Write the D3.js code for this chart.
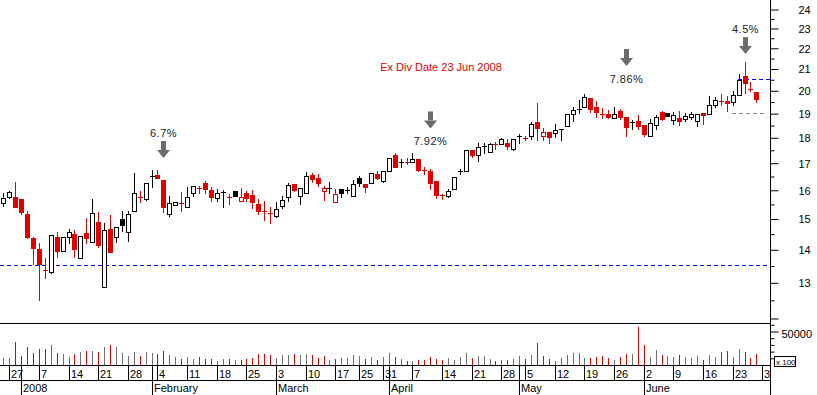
<!DOCTYPE html>
<html>
<head>
<meta charset="utf-8">
<script src="https://cdn.jsdelivr.net/npm/d3@7"></script>
<style>
  html, body { margin: 0; padding: 0; background: #fff; }
  svg { display: block; font-family: "Liberation Sans", Arial, sans-serif; }
</style>
</head>
<body>
<svg id="chart" width="817" height="395"></svg>
<script>
// trading days shown (Dec 21 2007 .. Jun 27 2008)
const dates = [
  "2007-12-21","2007-12-27","2007-12-28",
  "2008-01-02","2008-01-03","2008-01-04","2008-01-07","2008-01-08","2008-01-09","2008-01-10","2008-01-11",
  "2008-01-14","2008-01-15","2008-01-16","2008-01-17","2008-01-18","2008-01-21","2008-01-22","2008-01-23",
  "2008-01-24","2008-01-25","2008-01-28","2008-01-29","2008-01-30","2008-01-31",
  "2008-02-01","2008-02-04","2008-02-05","2008-02-06","2008-02-07","2008-02-08","2008-02-11","2008-02-12",
  "2008-02-13","2008-02-14","2008-02-15","2008-02-18","2008-02-19","2008-02-20","2008-02-21","2008-02-22",
  "2008-02-25","2008-02-26","2008-02-27","2008-02-28","2008-02-29",
  "2008-03-03","2008-03-04","2008-03-05","2008-03-06","2008-03-07","2008-03-10","2008-03-11","2008-03-12",
  "2008-03-13","2008-03-14","2008-03-17","2008-03-18","2008-03-19","2008-03-20","2008-03-25","2008-03-26",
  "2008-03-27","2008-03-28","2008-03-31",
  "2008-04-01","2008-04-02","2008-04-03","2008-04-04","2008-04-07","2008-04-08","2008-04-09","2008-04-10",
  "2008-04-11","2008-04-14","2008-04-15","2008-04-16","2008-04-17","2008-04-18","2008-04-21","2008-04-22",
  "2008-04-23","2008-04-24","2008-04-25","2008-04-28","2008-04-29","2008-04-30",
  "2008-05-02","2008-05-05","2008-05-06","2008-05-07","2008-05-08","2008-05-09","2008-05-12","2008-05-13",
  "2008-05-14","2008-05-15","2008-05-16","2008-05-19","2008-05-20","2008-05-21","2008-05-22","2008-05-23",
  "2008-05-26","2008-05-27","2008-05-28","2008-05-29","2008-05-30",
  "2008-06-02","2008-06-03","2008-06-04","2008-06-05","2008-06-06","2008-06-09","2008-06-10","2008-06-11",
  "2008-06-12","2008-06-13","2008-06-16","2008-06-17","2008-06-18","2008-06-19","2008-06-20","2008-06-23",
  "2008-06-24","2008-06-25","2008-06-26","2008-06-27"
];

const prevClose = 15.55; // close of the day before the first candle

const open = [
  15.52,15.74,15.73,15.67,15.15,14.36,14.00,13.36,13.30,14.39,
  13.96,14.38,14.48,13.73,14.53,14.23,14.88,12.86,14.66,14.40,
  14.98,14.56,15.26,15.75,15.66,16.50,16.53,16.35,15.15,15.45,
  15.52,15.40,15.87,16.05,16.25,15.99,15.70,15.91,15.74,15.94,
  15.59,15.90,15.80,15.51,15.26,15.18,15.09,15.42,15.73,16.20,
  15.76,15.87,16.55,16.42,15.97,16.07,15.55,16.01,15.94,15.78,
  16.42,16.20,16.24,16.57,16.33,16.68,17.29,17.03,17.04,17.03,
  17.13,16.73,16.67,16.30,15.83,15.79,16.03,16.66,16.67,17.49,
  17.30,17.63,17.42,17.71,17.73,17.78,17.55,18.05,17.97,18.06,
  18.61,18.06,18.20,18.19,18.32,18.48,18.96,19.16,19.25,19.64,
  19.28,18.97,18.96,18.78,19.10,18.82,18.60,18.65,18.50,18.04,
  18.52,19.06,19.02,18.70,18.79,18.75,18.82,18.65,18.99,18.96,
  19.35,19.51,19.53,19.50,19.78,20.67,20.05,19.91
];
const high = [
  15.88,15.94,16.27,15.67,15.24,14.40,14.20,13.72,14.47,14.56,
  14.40,14.65,14.62,14.42,15.03,15.67,15.22,14.84,15.12,14.72,
  15.26,15.26,16.63,15.94,16.23,16.72,16.72,16.35,15.76,15.57,
  15.91,16.11,16.12,16.13,16.32,16.11,16.01,15.99,15.85,15.94,
  16.07,15.97,15.99,15.66,15.60,15.40,15.57,15.76,16.25,16.20,
  16.05,16.65,16.60,16.56,16.15,16.29,16.04,16.01,16.10,16.35,
  16.49,16.20,16.60,16.68,16.68,17.17,17.38,17.13,17.17,17.36,
  17.13,16.85,16.76,16.30,15.84,16.01,16.45,16.78,17.51,17.49,
  17.76,17.76,17.78,17.80,17.98,17.92,17.92,18.14,18.05,18.61,
  19.45,18.37,18.20,18.54,18.33,18.96,19.28,19.56,19.84,19.64,
  19.52,19.23,19.13,19.28,19.17,18.82,18.70,18.92,18.50,18.75,
  18.92,19.10,19.02,19.06,19.10,19.02,19.06,18.97,18.99,19.74,
  19.71,19.83,19.74,19.98,20.76,21.32,20.39,19.91
];
const low = [
  15.44,15.70,15.40,15.16,14.37,13.55,12.50,13.12,13.28,13.77,
  13.95,14.20,13.75,13.73,14.19,14.23,14.07,12.86,13.90,14.22,
  14.59,14.26,15.26,15.56,15.64,16.11,16.44,15.23,15.10,15.45,
  15.25,15.40,15.76,15.90,15.90,15.60,15.61,15.40,15.51,15.79,
  15.59,15.59,15.37,15.15,14.95,14.86,15.06,15.35,15.60,15.95,
  15.50,15.87,16.29,16.13,15.63,15.87,15.55,15.73,15.87,15.78,
  16.14,15.92,16.24,16.39,16.29,16.68,16.83,16.85,16.94,17.03,
  16.67,16.57,16.04,15.70,15.67,15.73,16.03,16.57,16.67,17.23,
  17.06,17.36,17.42,17.55,17.73,17.55,17.51,17.76,17.90,17.92,
  17.87,17.90,17.76,18.02,17.90,18.48,18.65,19.02,19.25,19.06,
  18.85,18.80,18.78,18.78,18.75,18.04,18.34,18.34,18.04,18.04,
  18.34,18.72,18.88,18.54,18.50,18.65,18.75,18.47,18.54,18.96,
  19.28,19.35,19.10,19.35,19.78,19.89,19.97,19.47
];
const close = [
  15.72,15.91,15.40,15.23,14.40,14.05,13.56,13.34,14.44,13.96,
  14.39,14.55,14.01,14.42,14.37,15.18,14.14,14.61,13.90,14.72,
  14.79,15.15,15.87,15.74,16.23,16.51,16.44,15.38,15.53,15.57,
  15.51,15.73,16.12,16.04,16.01,15.73,15.90,15.92,15.73,15.79,
  15.73,15.72,15.55,15.27,15.25,15.17,15.32,15.65,16.16,15.98,
  16.05,16.49,16.40,16.24,16.05,16.08,15.85,15.87,15.99,16.20,
  16.24,16.09,16.60,16.44,16.68,17.17,16.85,17.04,17.03,17.13,
  16.73,16.72,16.25,15.83,15.82,15.94,16.45,16.67,17.51,17.30,
  17.62,17.64,17.72,17.71,17.92,17.65,17.92,18.06,17.96,18.54,
  18.38,18.22,18.01,18.30,18.33,18.96,19.13,19.17,19.71,19.17,
  19.06,18.96,18.82,18.96,18.85,18.42,18.61,18.45,18.14,18.60,
  18.82,18.75,18.88,18.92,18.65,18.88,18.96,18.97,18.92,19.35,
  19.57,19.50,19.42,19.78,20.48,20.31,20.04,19.60
];
// volume, in hundreds of shares
const volume = [
  10000,10900,34800,13900,26900,18400,23900,24300,29900,18400,
  16000,11900,16400,19000,20900,20900,19400,26900,29900,26900,
  18400,13000,19400,13400,19000,18400,16000,21400,14900,11900,
  9400,11500,9400,12400,9400,9000,6400,9000,9400,7900,
  7900,9000,10000,16400,16000,14900,10000,14500,14900,16400,
  14500,16400,14900,10900,13400,7500,9400,10000,10900,14500,
  13000,9400,12400,7900,12400,18400,12400,9400,6400,6400,
  7900,7000,12400,9000,7900,10000,7000,11900,18400,10900,
  13400,13400,8500,6000,7000,7900,8500,13400,9400,14900,
  33300,13400,9400,6400,10900,14900,18400,18400,10000,10900,
  12400,13900,10000,7000,12400,16000,16000,56300,29900,12400,
  22400,14900,13900,12400,14900,12400,10900,13900,7500,14900,
  12400,19000,21400,12400,23900,19900,10900,16400
];

// axis ticks
const priceTicks = [12,13,14,15,16,17,18,19,20,21,22,23,24];
const priceMinorTicks = [12.5,13.5,14.5,15.5,16.5,17.5,18.5,19.5,20.5,21.5,22.5,23.5];
const volTicks = [10000,20000,30000,40000,60000];
const volLabelTick = [50000];
const weekTickDates = ["2007-12-27","2008-01-07","2008-01-14","2008-01-21","2008-01-28","2008-02-04","2008-02-11",
  "2008-02-18","2008-02-25","2008-03-03","2008-03-10","2008-03-17","2008-03-25","2008-03-31","2008-04-07",
  "2008-04-14","2008-04-21","2008-04-28","2008-05-05","2008-05-12","2008-05-19","2008-05-26","2008-06-02",
  "2008-06-09","2008-06-16","2008-06-23","2008-06-30"];
const weekTickLabels = ["27","7","14","21","28","4","11","18","25","3","10","17","25","31","7",
  "14","21","28","5","12","19","26","2","9","16","23","30"];
const monthTickDates = ["2008-01-02","2008-02-01","2008-03-03","2008-04-01","2008-05-02","2008-06-02"];
const monthTickLabels = ["2008","February","March","April","May","June"];

// annotations
const noteLabels = ["6.7%","7.92%","7.86%","4.5%"];
const noteDates = ["2008-02-05","2008-04-10","2008-05-28","2008-06-25"];
const noteTips = [17.18, 18.36, 21.12, 21.69];
const noteTextAbove = [true, false, false, true];
const refLevels = [13.5, 20.5, 19.0];
const refFrom = ["2007-12-21","2008-06-24","2008-06-23"];
const refColors = ["#0000ff","#0000ff","#808080"];

const RED = "#e00000", GREY = "#6e6e6e";

const svg = d3.select("#chart");
const axisX = 770.5;
const axisDates = dates.concat(["2008-06-30"]);
const idx = d => axisDates.indexOf(d);

const x = d3.scaleLinear().domain([0, 128]).range([3.3, 3.3 + 5.93 * 128]);
const y = d3.scaleLog().domain([11.866, 24.49]).range([323, 0]);
const yv = d3.scaleLinear().domain([0, 60000]).range([365, 324.8]);

const defs = svg.append("defs");
defs.append("clipPath").attr("id", "clipPrice")
  .append("rect").attr("x", 0).attr("y", 0).attr("width", 770).attr("height", 323);
defs.append("clipPath").attr("id", "clipDates")
  .append("rect").attr("x", 0).attr("y", 360).attr("width", 770).attr("height", 40);

const px = i => Math.round(x(i));
const py = v => Math.round(y(v));

const upDay = close.map((c, i) => c >= (i === 0 ? prevClose : close[i - 1]));

// reference lines
const gPrice = svg.append("g").attr("clip-path", "url(#clipPrice)");
refLevels.forEach((v, k) => {
  const x0 = k === 0 ? 0 : px(idx(refFrom[k])) - 1;
  const x1 = k === 2 ? px(128) + 4 : axisX;
  gPrice.append("line")
    .attr("x1", x0).attr("x2", x1)
    .attr("y1", py(v) + 0.5).attr("y2", py(v) + 0.5)
    .attr("stroke", refColors[k]).attr("stroke-dasharray", "4,3")
    .attr("shape-rendering", "crispEdges");
});

// candles
const candles = gPrice.selectAll("g.candle")
  .data(dates.map((d, i) => i))
  .join("g").attr("class", "candle");

candles.append("line")
  .attr("x1", i => px(i) + 0.5).attr("x2", i => px(i) + 0.5)
  .attr("y1", i => py(high[i])).attr("y2", i => py(low[i]) + 1)
  .attr("stroke", i => upDay[i] ? "#000" : RED);

candles.each(function(i) {
  const g = d3.select(this);
  const col = upDay[i] ? "#000" : RED;
  const yt = py(Math.max(open[i], close[i]));
  const yb = py(Math.min(open[i], close[i]));
  if (yb - yt < 2) {
    g.append("line")
      .attr("x1", px(i) - 2).attr("x2", px(i) + 3)
      .attr("y1", yt + 0.5).attr("y2", yt + 0.5)
      .attr("stroke", col);
  } else {
    const hollow = close[i] > open[i];
    g.append("rect")
      .attr("x", px(i) - 1.5).attr("width", 4)
      .attr("y", yt + 0.5).attr("height", yb - yt)
      .attr("fill", hollow ? "#fff" : col)
      .attr("stroke", col);
  }
});

// volume bars
svg.append("g").selectAll("line")
  .data(volume)
  .join("line")
  .attr("x1", (v, i) => px(i) + 0.5).attr("x2", (v, i) => px(i) + 0.5)
  .attr("y1", yv(0)).attr("y2", v => Math.round(yv(v)))
  .attr("stroke", (v, i) => upDay[i] ? GREY : RED);

// frame lines
[323.5, 365.5, 380.5].forEach(yy => {
  svg.append("line").attr("x1", 0).attr("x2", axisX).attr("y1", yy).attr("y2", yy)
    .attr("stroke", "#000");
});
svg.append("line").attr("x1", axisX).attr("x2", axisX).attr("y1", 0).attr("y2", 395)
  .attr("stroke", "#000");

// price axis
const fontSize = 11;
const yAxisMajor = d3.axisRight(y).tickValues(priceTicks).tickSize(8).tickSizeOuter(0)
  .tickPadding(20).tickFormat(d => d === 12 ? "" : d);
const yAxisMinor = d3.axisRight(y).tickValues(priceMinorTicks).tickSize(4).tickSizeOuter(0)
  .tickFormat("");
[yAxisMajor, yAxisMinor].forEach(ax => {
  const g = svg.append("g").attr("transform", `translate(${axisX},0)`).call(ax);
  g.select(".domain").remove();
  g.selectAll("line").attr("transform", "translate(0,0.5)");
  g.selectAll("text").attr("font-size", fontSize).attr("font-family", "Liberation Sans, Arial, sans-serif")
    .attr("fill", "#000").attr("dy", "0.4em");
});

// volume axis
const vMinor = d3.axisRight(yv).tickValues(volTicks).tickSize(4).tickSizeOuter(0).tickFormat("");
const vMajor = d3.axisRight(yv).tickValues(volLabelTick).tickSize(8).tickSizeOuter(0)
  .tickPadding(3).tickFormat(d3.format("d"));
[vMinor, vMajor].forEach(ax => {
  const g = svg.append("g").attr("transform", `translate(${axisX},0)`).call(ax);
  g.select(".domain").remove();
  g.selectAll("text").attr("font-size", fontSize).attr("font-family", "Liberation Sans, Arial, sans-serif")
    .attr("fill", "#000").attr("dy", "0.55em");
});
svg.append("rect").attr("x", 774.5).attr("y", 356.5).attr("width", 21).attr("height", 10)
  .attr("fill", "#fff").attr("stroke", "#000");
svg.append("text").attr("x", 776).attr("y", 364.5).attr("font-size", 8).text("x 100");

// date rows
const gDates = svg.append("g").attr("clip-path", "url(#clipDates)");
weekTickDates.forEach((d, k) => {
  const xx = px(idx(d)) + 0.5;
  gDates.append("line").attr("x1", xx).attr("x2", xx).attr("y1", 365).attr("y2", 381)
    .attr("stroke", "#000");
  gDates.append("text").attr("x", xx + 1.5).attr("y", 377.5)
    .attr("font-size", fontSize).text(weekTickLabels[k]);
});
monthTickDates.forEach((d, k) => {
  const xx = px(idx(d)) + 0.5;
  gDates.append("line").attr("x1", xx).attr("x2", xx).attr("y1", 365).attr("y2", 395)
    .attr("stroke", "#000");
  svg.append("text").attr("x", xx + 1.5).attr("y", 392)
    .attr("font-size", fontSize).text(monthTickLabels[k]);
});

// annotations
const ARROW = "#6b6b6b";
noteLabels.forEach((lab, k) => {
  const cx = px(idx(noteDates[k])) + 0.5;
  const ty = y(noteTips[k]);
  svg.append("rect").attr("x", cx - 2.5).attr("y", ty - 17).attr("width", 5).attr("height", 9)
    .attr("fill", ARROW);
  svg.append("path")
    .attr("d", `M${cx - 6.5},${ty - 8}L${cx + 6.5},${ty - 8}L${cx},${ty}Z`)
    .attr("fill", ARROW);
  svg.append("text")
    .attr("x", cx).attr("y", noteTextAbove[k] ? ty - 21 : ty + 17)
    .attr("text-anchor", "middle").attr("font-size", fontSize)
    .attr("letter-spacing", "0.5px").attr("fill", "#222")
    .text(lab);
});

svg.append("text").attr("x", 441).attr("y", 71).attr("text-anchor", "middle")
  .attr("font-size", fontSize).attr("fill", RED)
  .text("Ex Div Date 23 Jun 2008");
</script>
</body>
</html>
